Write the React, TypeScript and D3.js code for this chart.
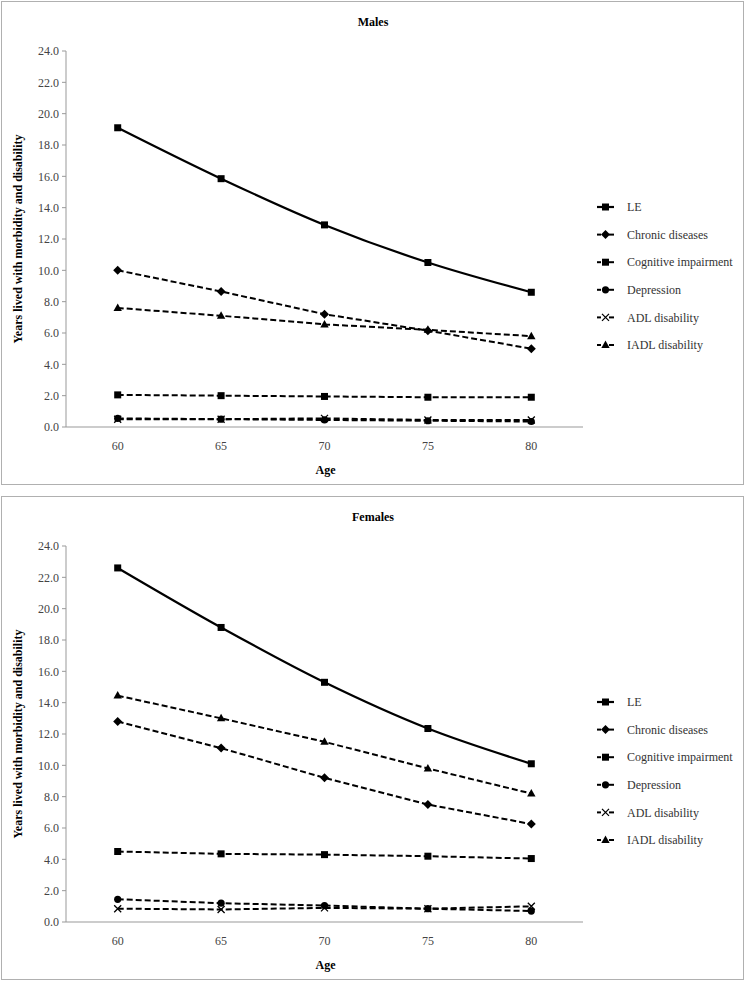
import React from "react";
import * as d3 from "d3";

const ages = ["60", "65", "70", "75", "80"];
const yTicks = [0, 2, 4, 6, 8, 10, 12, 14, 16, 18, 20, 22, 24];
const seriesNames = ["LE", "Chronic diseases", "Cognitive impairment", "Depression", "ADL disability", "IADL disability"];
const markers = ["square", "diamond", "square", "circle", "cross", "triangle"];

const malesLE = [19.1, 15.85, 12.9, 10.5, 8.6];
const malesChronic = [10.0, 8.65, 7.2, 6.15, 5.0];
const malesCognitive = [2.05, 2.0, 1.95, 1.9, 1.9];
const malesDepression = [0.55, 0.5, 0.45, 0.4, 0.35];
const malesADL = [0.5, 0.5, 0.55, 0.45, 0.45];
const malesIADL = [7.6, 7.1, 6.55, 6.2, 5.8];

const femalesLE = [22.6, 18.8, 15.3, 12.35, 10.1];
const femalesChronic = [12.8, 11.1, 9.2, 7.5, 6.25];
const femalesCognitive = [4.5, 4.35, 4.3, 4.2, 4.05];
const femalesDepression = [1.45, 1.2, 1.05, 0.85, 0.7];
const femalesADL = [0.85, 0.8, 0.9, 0.85, 1.0];
const femalesIADL = [14.45, 13.0, 11.5, 9.8, 8.2];

const FONT = "'Liberation Serif', 'Times New Roman', serif";

function Marker({ type, x, y }: { type: string; x: number; y: number }) {
  if (type === "square") return <rect x={x - 3.5} y={y - 3.5} width={7} height={7} fill="#000" />;
  if (type === "diamond")
    return <path d={`M${x},${y - 4.5}L${x + 4.5},${y}L${x},${y + 4.5}L${x - 4.5},${y}Z`} fill="#000" />;
  if (type === "circle") return <circle cx={x} cy={y} r={3.6} fill="#000" />;
  if (type === "triangle")
    return <path d={`M${x},${y - 4.5}L${x + 4.2},${y + 3}L${x - 4.2},${y + 3}Z`} fill="#000" />;
  if (type === "cross")
    return (
      <path
        d={`M${x - 3.5},${y - 3.5}L${x + 3.5},${y + 3.5}M${x - 3.5},${y + 3.5}L${x + 3.5},${y - 3.5}`}
        stroke="#000"
        strokeWidth={1.3}
      />
    );
  return null;
}

function Panel({ top, title, data }: { top: number; title: string; data: number[][] }) {
  const left = 66;
  const right = 583;
  const yTop = top + 49;
  const yBottom = top + 425;
  const x = d3.scaleBand<string>().domain(ages).range([left, right]);
  const y = d3.scaleLinear().domain([0, 24]).range([yBottom, yTop]);
  const cx = (a: string) => (x(a) as number) + x.bandwidth() / 2;

  const legendY0 = top + 205;
  const legendStep = 27.6;

  return (
    <g>
      <rect x={1.5} y={top - 0.5} width={742} height={483} fill="#fff" stroke="#b0b0b0" strokeWidth={1} />
      <text x={373} y={top + 24} textAnchor="middle" fontFamily={FONT} fontWeight="bold" fontSize={12}>
        {title}
      </text>
      {/* y axis */}
      <line x1={left} x2={left} y1={yTop} y2={yBottom} stroke="#999" strokeWidth={1} />
      {yTicks.map((t) => (
        <g key={t}>
          <line x1={left - 4} x2={left} y1={y(t)} y2={y(t)} stroke="#999" />
          <text x={left - 7} y={y(t)} dy="0.35em" textAnchor="end" fontFamily={FONT} fontSize={12} fill="#444">
            {t.toFixed(1)}
          </text>
        </g>
      ))}
      {/* x axis */}
      <line x1={left} x2={right} y1={yBottom} y2={yBottom} stroke="#999" strokeWidth={1} />
      {ages.map((a) => (
        <text key={a} x={cx(a)} y={yBottom + 23} textAnchor="middle" fontFamily={FONT} fontSize={12} fill="#444">
          {a}
        </text>
      ))}
      <text x={(left + right) / 2 + 1} y={yBottom + 47} textAnchor="middle" fontFamily={FONT} fontWeight="bold" fontSize={12}>
        Age
      </text>
      <text
        transform={`translate(22,${(yTop + yBottom) / 2}) rotate(-90)`}
        textAnchor="middle"
        fontFamily={FONT}
        fontWeight="bold"
        fontSize={12}
      >
        Years lived with morbidity and disability
      </text>
      {/* series */}
      {data.map((vals, i) => {
        const line = d3
          .line<number>()
          .x((_, j) => cx(ages[j]))
          .y((v) => y(v))
          .curve(i === 0 ? d3.curveCatmullRom.alpha(0.5) : d3.curveLinear);
        return (
          <g key={i}>
            <path
              d={line(vals) || ""}
              fill="none"
              stroke="#000"
              strokeWidth={i === 0 ? 2.2 : 2}
              strokeDasharray={i === 0 ? undefined : "6,3"}
            />
            {vals.map((v, j) => (
              <Marker key={j} type={markers[i]} x={cx(ages[j])} y={y(v)} />
            ))}
          </g>
        );
      })}
      {/* legend */}
      {seriesNames.map((name, i) => {
        const ly = legendY0 + i * legendStep;
        return (
          <g key={name}>
            {i === 0 ? (
              <line x1={597} x2={614} y1={ly} y2={ly} stroke="#000" strokeWidth={2.2} />
            ) : (
              <g>
                <line x1={597} x2={601} y1={ly} y2={ly} stroke="#000" strokeWidth={2} />
                <line x1={609} x2={614} y1={ly} y2={ly} stroke="#000" strokeWidth={2} />
              </g>
            )}
            <Marker type={markers[i]} x={605.5} y={ly} />
            <text x={627} y={ly} dy="0.35em" fontFamily={FONT} fontSize={12} fill="#333">
              {name}
            </text>
          </g>
        );
      })}
    </g>
  );
}

export default function App() {
  const males = [malesLE, malesChronic, malesCognitive, malesDepression, malesADL, malesIADL];
  const females = [femalesLE, femalesChronic, femalesCognitive, femalesDepression, femalesADL, femalesIADL];
  return (
    <svg
      width={746}
      height={981}
      style={{ position: "absolute", left: 0, top: 0, background: "#fff" }}
    >
      <Panel top={2} title="Males" data={males} />
      <Panel top={497} title="Females" data={females} />
    </svg>
  );
}
